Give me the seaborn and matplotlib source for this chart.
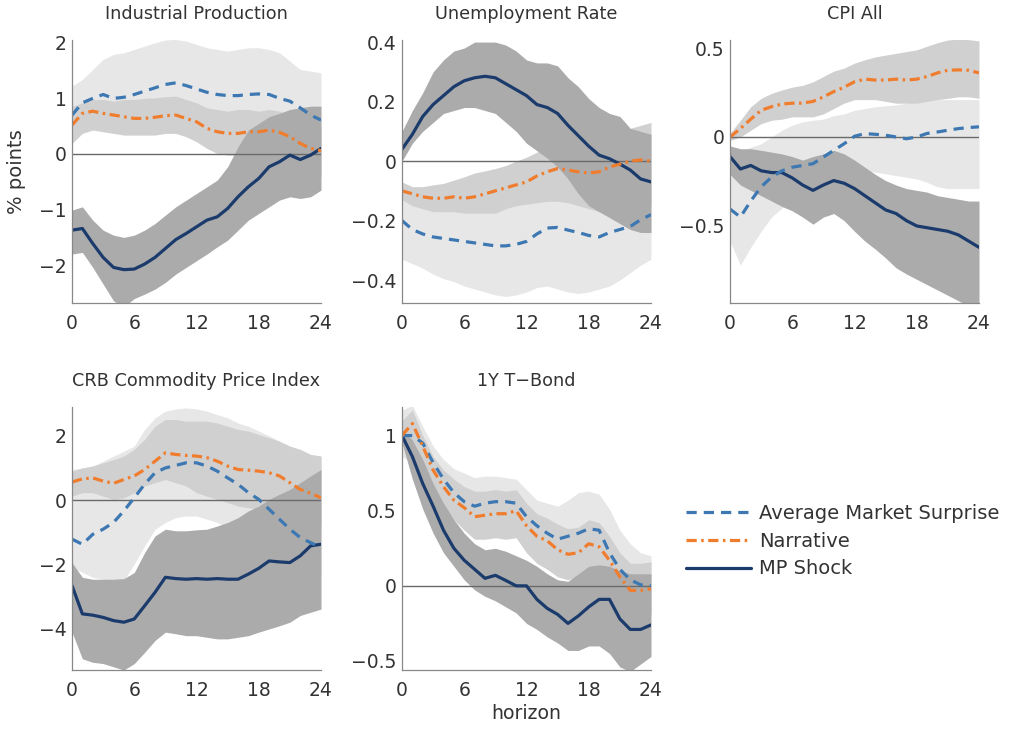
import numpy as np
import pandas as pd
import matplotlib
matplotlib.use("Agg")
import matplotlib.pyplot as plt
from matplotlib.lines import Line2D
import seaborn as sns

sns.set_style("white")
plt.rcParams['font.family'] = ['DejaVu Sans']

horizon = list(range(25))
series_labels = ["Average Market Surprise", "Narrative", "MP Shock"]
panel_titles = ["Industrial Production", "Unemployment Rate", "CPI All",
                "CRB Commodity Price Index", "1Y T\u2212Bond"]

# ---------------- Industrial Production ----------------
ip_mp = [-1.37, -1.34, -1.61, -1.86, -2.04, -2.08, -2.07, -1.98, -1.86, -1.70, -1.54, -1.43, -1.31,
         -1.19, -1.13, -0.98, -0.77, -0.59, -0.44, -0.23, -0.14, -0.02, -0.10, -0.02, 0.10]
ip_mp_hi = [-1.01, -0.95, -1.19, -1.37, -1.46, -1.50, -1.46, -1.37, -1.25, -1.10, -0.95, -0.83, -0.71,
            -0.59, -0.47, -0.23, 0.13, 0.43, 0.55, 0.67, 0.73, 0.80, 0.83, 0.86, 0.86]
ip_mp_lo = [-1.80, -1.77, -2.04, -2.34, -2.64, -2.75, -2.60, -2.52, -2.43, -2.31, -2.16, -2.04, -1.92,
            -1.80, -1.67, -1.55, -1.37, -1.19, -1.07, -0.95, -0.83, -0.77, -0.80, -0.77, -0.65]
ip_avg = [0.70, 0.92, 1.00, 1.07, 1.00, 1.02, 1.07, 1.13, 1.19, 1.25, 1.28, 1.23, 1.17,
          1.11, 1.07, 1.05, 1.05, 1.07, 1.08, 1.07, 1.00, 0.95, 0.83, 0.70, 0.61]
ip_avg_hi = [1.22, 1.34, 1.52, 1.70, 1.79, 1.82, 1.88, 1.94, 2.00, 2.05, 2.06, 2.03, 1.97,
             1.91, 1.88, 1.85, 1.88, 1.91, 1.91, 1.88, 1.82, 1.67, 1.52, 1.49, 1.46]
ip_avg_lo = [0.30, 0.45, 0.50, 0.52, 0.50, 0.45, 0.45, 0.48, 0.50, 0.55, 0.60, 0.55, 0.45,
             0.35, 0.30, 0.25, 0.25, 0.28, 0.30, 0.30, 0.25, 0.20, 0.10, 0.00, -0.10]
ip_nar = [0.52, 0.73, 0.77, 0.73, 0.70, 0.67, 0.64, 0.64, 0.66, 0.69, 0.70, 0.64, 0.58,
          0.46, 0.40, 0.37, 0.37, 0.40, 0.40, 0.43, 0.39, 0.31, 0.19, 0.10, 0.06]
ip_nar_hi = [0.86, 0.92, 0.98, 0.98, 0.95, 0.98, 0.98, 1.00, 1.01, 1.03, 1.04, 0.98, 0.92,
             0.83, 0.80, 0.77, 0.80, 0.80, 0.77, 0.80, 0.77, 0.70, 0.61, 0.55, 0.49]
ip_nar_lo = [0.19, 0.37, 0.43, 0.40, 0.37, 0.34, 0.34, 0.34, 0.34, 0.37, 0.37, 0.31, 0.22,
             0.10, 0.01, -0.02, -0.02, 0.00, 0.01, 0.01, -0.02, -0.11, -0.23, -0.35, -0.41]

# ---------------- Unemployment Rate ----------------
ur_mp = [0.04, 0.09, 0.15, 0.19, 0.22, 0.25, 0.27, 0.28, 0.285, 0.28, 0.26, 0.24, 0.22,
         0.19, 0.18, 0.16, 0.12, 0.085, 0.05, 0.02, 0.008, -0.01, -0.03, -0.06, -0.07]
ur_mp_hi = [0.10, 0.17, 0.23, 0.30, 0.34, 0.37, 0.38, 0.40, 0.40, 0.40, 0.39, 0.37, 0.34,
            0.33, 0.33, 0.32, 0.28, 0.25, 0.21, 0.18, 0.16, 0.15, 0.11, 0.10, 0.09]
ur_mp_lo = [0.00, 0.06, 0.10, 0.13, 0.16, 0.17, 0.18, 0.18, 0.17, 0.16, 0.13, 0.10, 0.06,
            0.035, 0.01, -0.02, -0.06, -0.11, -0.15, -0.17, -0.19, -0.21, -0.23, -0.24, -0.24]
ur_avg = [-0.20, -0.23, -0.245, -0.255, -0.26, -0.265, -0.27, -0.275, -0.28, -0.285, -0.285, -0.28, -0.27,
          -0.245, -0.225, -0.223, -0.232, -0.24, -0.25, -0.255, -0.24, -0.23, -0.22, -0.197, -0.18]
ur_avg_hi = [-0.09, -0.11, -0.12, -0.13, -0.13, -0.13, -0.14, -0.14, -0.14, -0.14, -0.13, -0.12, -0.11,
             -0.10, -0.10, -0.10, -0.11, -0.12, -0.12, -0.12, -0.12, -0.12, -0.11, -0.10, -0.09]
ur_avg_lo = [-0.33, -0.345, -0.36, -0.38, -0.395, -0.405, -0.42, -0.43, -0.44, -0.45, -0.455, -0.45, -0.44,
             -0.425, -0.42, -0.43, -0.44, -0.445, -0.44, -0.43, -0.42, -0.40, -0.375, -0.35, -0.33]
ur_nar = [-0.10, -0.11, -0.12, -0.125, -0.125, -0.12, -0.125, -0.12, -0.11, -0.10, -0.09, -0.08, -0.07,
          -0.05, -0.036, -0.025, -0.03, -0.036, -0.04, -0.036, -0.02, -0.01, 0.00, 0.004, 0.00]
ur_nar_hi = [-0.07, -0.086, -0.086, -0.08, -0.075, -0.064, -0.053, -0.04, -0.033, -0.025, -0.015, 0.00, 0.013,
             0.03, 0.046, 0.057, 0.065, 0.07, 0.075, 0.08, 0.09, 0.10, 0.11, 0.12, 0.13]
ur_nar_lo = [-0.13, -0.15, -0.16, -0.17, -0.17, -0.17, -0.175, -0.175, -0.175, -0.175, -0.16, -0.15, -0.145,
             -0.14, -0.135, -0.135, -0.14, -0.15, -0.16, -0.17, -0.175, -0.175, -0.165, -0.155, -0.145]

# ---------------- CPI All ----------------
cpi_mp = [-0.11, -0.18, -0.16, -0.19, -0.20, -0.20, -0.23, -0.27, -0.30, -0.27, -0.245, -0.26, -0.29,
          -0.33, -0.37, -0.41, -0.43, -0.47, -0.50, -0.51, -0.52, -0.53, -0.55, -0.585, -0.62]
cpi_mp_hi = [-0.05, -0.066, -0.066, -0.075, -0.085, -0.095, -0.11, -0.13, -0.11, -0.095, -0.075, -0.095, -0.13,
             -0.17, -0.21, -0.245, -0.27, -0.29, -0.30, -0.31, -0.33, -0.34, -0.35, -0.36, -0.36]
cpi_mp_lo = [-0.21, -0.27, -0.30, -0.33, -0.36, -0.39, -0.415, -0.45, -0.49, -0.45, -0.43, -0.47, -0.53,
             -0.585, -0.63, -0.68, -0.735, -0.77, -0.80, -0.83, -0.86, -0.89, -0.92, -0.95, -0.97]
cpi_avg = [-0.405, -0.45, -0.36, -0.28, -0.226, -0.19, -0.17, -0.16, -0.15, -0.113, -0.075, -0.038, 0.004,
           0.019, 0.015, 0.01, 0.00, -0.01, 0.00, 0.02, 0.028, 0.038, 0.047, 0.053, 0.057]
cpi_avg_hi = [-0.057, -0.085, -0.057, -0.038, 0.00, 0.038, 0.066, 0.085, 0.094, 0.10, 0.12, 0.13, 0.15,
              0.16, 0.17, 0.175, 0.18, 0.19, 0.20, 0.21, 0.21, 0.21, 0.21, 0.21, 0.21]
cpi_avg_lo = [-0.585, -0.72, -0.62, -0.53, -0.45, -0.40, -0.35, -0.32, -0.30, -0.28, -0.255, -0.226, -0.198,
              -0.19, -0.198, -0.207, -0.217, -0.226, -0.236, -0.255, -0.28, -0.29, -0.29, -0.29, -0.29]
cpi_nar = [0.00, 0.047, 0.10, 0.15, 0.17, 0.185, 0.19, 0.19, 0.20, 0.225, 0.255, 0.28, 0.31,
           0.325, 0.32, 0.32, 0.325, 0.32, 0.325, 0.34, 0.36, 0.375, 0.377, 0.375, 0.36]
cpi_nar_hi = [0.02, 0.094, 0.17, 0.217, 0.245, 0.264, 0.28, 0.29, 0.31, 0.34, 0.37, 0.387, 0.415,
              0.434, 0.45, 0.46, 0.47, 0.48, 0.49, 0.51, 0.53, 0.545, 0.55, 0.547, 0.54]
cpi_nar_lo = [-0.02, 0.00, 0.038, 0.075, 0.094, 0.10, 0.113, 0.113, 0.113, 0.13, 0.16, 0.19, 0.21,
              0.21, 0.21, 0.20, 0.19, 0.19, 0.19, 0.20, 0.21, 0.217, 0.226, 0.226, 0.217]

# ---------------- CRB Commodity Price Index ----------------
crb_mp = [-2.67, -3.55, -3.59, -3.66, -3.76, -3.81, -3.71, -3.30, -2.88, -2.41, -2.45, -2.47, -2.45,
          -2.47, -2.45, -2.47, -2.47, -2.31, -2.13, -1.90, -1.93, -1.95, -1.74, -1.43, -1.38]
crb_mp_hi = [-1.95, -2.41, -2.47, -2.47, -2.47, -2.45, -2.26, -1.64, -1.12, -0.91, -0.96, -0.96, -0.93,
             -0.91, -0.81, -0.70, -0.55, -0.34, -0.19, 0.02, 0.18, 0.33, 0.54, 0.75, 0.95]
crb_mp_lo = [-4.12, -4.95, -5.06, -5.10, -5.20, -5.30, -5.10, -4.75, -4.38, -4.12, -4.17, -4.23, -4.23,
             -4.28, -4.33, -4.33, -4.28, -4.23, -4.12, -4.02, -3.92, -3.81, -3.60, -3.50, -3.40]
crb_avg = [-1.22, -1.38, -1.07, -0.91, -0.70, -0.34, 0.07, 0.49, 0.85, 1.00, 1.08, 1.16, 1.16,
           1.06, 0.90, 0.69, 0.49, 0.23, 0.02, -0.29, -0.60, -0.91, -1.17, -1.33, -1.48]
crb_avg_hi = [0.95, 1.00, 1.06, 1.21, 1.37, 1.52, 1.68, 2.20, 2.56, 2.77, 2.84, 2.87, 2.84,
              2.77, 2.66, 2.56, 2.40, 2.30, 2.15, 2.00, 1.84, 1.68, 1.52, 1.42, 1.37]
crb_avg_lo = [-2.10, -2.25, -2.41, -2.47, -2.50, -2.50, -2.00, -1.43, -0.91, -0.70, -0.55, -0.50, -0.50,
              -0.60, -0.70, -0.85, -1.02, -1.22, -1.43, -1.64, -1.84, -2.00, -2.16, -2.26, -2.36]
crb_nar = [0.56, 0.66, 0.69, 0.59, 0.52, 0.64, 0.75, 0.95, 1.21, 1.47, 1.42, 1.39, 1.37,
           1.32, 1.21, 1.06, 0.95, 0.93, 0.90, 0.85, 0.75, 0.54, 0.33, 0.21, 0.07]
crb_nar_hi = [0.90, 1.00, 1.06, 1.16, 1.26, 1.37, 1.58, 1.89, 2.30, 2.51, 2.51, 2.46, 2.46,
              2.46, 2.40, 2.30, 2.20, 2.15, 2.04, 1.94, 1.83, 1.68, 1.58, 1.42, 1.37]
crb_nar_lo = [0.12, 0.23, 0.23, 0.12, 0.02, 0.07, 0.23, 0.44, 0.54, 0.64, 0.54, 0.44, 0.23,
              0.12, 0.02, -0.08, -0.19, -0.24, -0.29, -0.34, -0.39, -0.50, -0.60, -0.70, -0.81]

# ---------------- 1Y T-Bond ----------------
tb_mp = [1.00, 0.86, 0.68, 0.53, 0.37, 0.25, 0.17, 0.11, 0.05, 0.07, 0.036, 0.00, 0.00,
         -0.09, -0.15, -0.19, -0.25, -0.20, -0.14, -0.09, -0.09, -0.22, -0.29, -0.29, -0.26]
tb_mp_hi = [1.04, 0.97, 0.84, 0.68, 0.55, 0.44, 0.35, 0.28, 0.24, 0.25, 0.23, 0.20, 0.17,
            0.13, 0.08, 0.04, 0.03, 0.08, 0.13, 0.14, 0.13, 0.10, 0.08, 0.08, 0.08]
tb_mp_lo = [0.95, 0.71, 0.51, 0.35, 0.22, 0.13, 0.04, -0.027, -0.07, -0.10, -0.14, -0.18, -0.25,
            -0.29, -0.34, -0.38, -0.43, -0.43, -0.40, -0.40, -0.45, -0.54, -0.57, -0.52, -0.47]
tb_avg = [1.00, 1.00, 0.95, 0.82, 0.71, 0.62, 0.56, 0.53, 0.55, 0.56, 0.56, 0.55, 0.46,
          0.40, 0.35, 0.31, 0.33, 0.35, 0.38, 0.37, 0.22, 0.11, 0.04, 0.007, 0.00]
tb_avg_hi = [1.17, 1.20, 1.06, 0.93, 0.84, 0.78, 0.75, 0.72, 0.73, 0.73, 0.72, 0.71, 0.64,
             0.57, 0.55, 0.53, 0.57, 0.62, 0.63, 0.61, 0.51, 0.37, 0.28, 0.22, 0.20]
tb_avg_lo = [0.86, 0.82, 0.71, 0.60, 0.51, 0.44, 0.40, 0.37, 0.37, 0.37, 0.36, 0.35, 0.26,
             0.20, 0.14, 0.08, 0.06, 0.08, 0.13, 0.11, 0.02, -0.09, -0.16, -0.18, -0.18]
tb_nar = [1.00, 1.08, 0.93, 0.77, 0.66, 0.57, 0.52, 0.46, 0.47, 0.48, 0.48, 0.50, 0.40,
          0.33, 0.30, 0.24, 0.21, 0.22, 0.28, 0.26, 0.17, 0.06, -0.03, -0.03, -0.02]
tb_nar_hi = [1.10, 1.17, 1.00, 0.86, 0.77, 0.71, 0.66, 0.63, 0.63, 0.64, 0.63, 0.64, 0.55,
             0.48, 0.45, 0.41, 0.38, 0.39, 0.44, 0.42, 0.33, 0.22, 0.15, 0.15, 0.16]
tb_nar_lo = [0.93, 0.95, 0.82, 0.66, 0.53, 0.44, 0.37, 0.31, 0.31, 0.32, 0.31, 0.32, 0.22,
             0.15, 0.11, 0.06, 0.04, 0.06, 0.12, 0.08, 0.00, -0.12, -0.20, -0.20, -0.19]

# y-axis settings per panel
ip_yticks = [-2, -1, 0, 1, 2]
ur_yticks = [-0.4, -0.2, 0, 0.2, 0.4]
cpi_yticks = [-0.5, 0, 0.5]
crb_yticks = [-4, -2, 0, 2]
tb_yticks = [-0.5, 0, 0.5, 1]
xticks = [0, 6, 12, 18, 24]

panels = [
    dict(title=panel_titles[0], avg=(ip_avg, ip_avg_lo, ip_avg_hi), nar=(ip_nar, ip_nar_lo, ip_nar_hi),
         mp=(ip_mp, ip_mp_lo, ip_mp_hi), yticks=ip_yticks, ylim=(-2.68, 2.05)),
    dict(title=panel_titles[1], avg=(ur_avg, ur_avg_lo, ur_avg_hi), nar=(ur_nar, ur_nar_lo, ur_nar_hi),
         mp=(ur_mp, ur_mp_lo, ur_mp_hi), yticks=ur_yticks, ylim=(-0.477, 0.407)),
    dict(title=panel_titles[2], avg=(cpi_avg, cpi_avg_lo, cpi_avg_hi), nar=(cpi_nar, cpi_nar_lo, cpi_nar_hi),
         mp=(cpi_mp, cpi_mp_lo, cpi_mp_hi), yticks=cpi_yticks, ylim=(-0.933, 0.545)),
    dict(title=panel_titles[3], avg=(crb_avg, crb_avg_lo, crb_avg_hi), nar=(crb_nar, crb_nar_lo, crb_nar_hi),
         mp=(crb_mp, crb_mp_lo, crb_mp_hi), yticks=crb_yticks, ylim=(-5.3, 2.9)),
    dict(title=panel_titles[4], avg=(tb_avg, tb_avg_lo, tb_avg_hi), nar=(tb_nar, tb_nar_lo, tb_nar_hi),
         mp=(tb_mp, tb_mp_lo, tb_mp_hi), yticks=tb_yticks, ylim=(-0.56, 1.19)),
]

c_avg = "#3d78b2"
c_nar = "#f07d2e"
c_mp = "#1b3b6c"
band_avg = "#e7e7e7"
band_nar = "#d0d0d0"
band_mp = "#ababab"
ls_avg = (0, (3.2, 2.2))
ls_nar = (0, (3.2, 1.4, 0.8, 1.4))
LW = 2.3
TXT = "#333333"

W, H = 1012, 731
fig = plt.figure(figsize=(W / 100, H / 100), dpi=100)

lefts = [72, 402, 730]
rows = [(40, 303), (407, 670)]
axw = 249

def fmt(v):
    if v == 0:
        return "0"
    s = ("%g" % abs(v))
    return ("\u2212" + s) if v < 0 else s

for i, p in enumerate(panels):
    r, c = divmod(i, 3)
    top, bot = rows[r]
    ax = fig.add_axes([lefts[c] / W, (H - bot) / H, axw / W, (bot - top) / H])
    df = pd.DataFrame({"h": horizon,
                       "avg": p["avg"][0], "avg_lo": p["avg"][1], "avg_hi": p["avg"][2],
                       "nar": p["nar"][0], "nar_lo": p["nar"][1], "nar_hi": p["nar"][2],
                       "mp": p["mp"][0], "mp_lo": p["mp"][1], "mp_hi": p["mp"][2]})
    ax.fill_between(df["h"], df["avg_lo"], df["avg_hi"], color=band_avg, lw=0, zorder=1)
    ax.fill_between(df["h"], df["nar_lo"], df["nar_hi"], color=band_nar, lw=0, zorder=2)
    ax.fill_between(df["h"], df["mp_lo"], df["mp_hi"], color=band_mp, lw=0, zorder=3)
    ax.axhline(0, color="#6a6a6a", lw=1.0, zorder=4)
    sns.lineplot(data=df, x="h", y="mp", ax=ax, color=c_mp, lw=LW, zorder=5, legend=False)
    sns.lineplot(data=df, x="h", y="avg", ax=ax, color=c_avg, lw=LW, ls=ls_avg, zorder=6, legend=False)
    sns.lineplot(data=df, x="h", y="nar", ax=ax, color=c_nar, lw=LW, ls=ls_nar, zorder=7, legend=False)
    ax.set_xlim(0, 24)
    ax.set_ylim(*p["ylim"])
    ax.set_xticks(xticks)
    ax.set_xticklabels([str(t) for t in xticks])
    ax.set_yticks(p["yticks"])
    ax.set_yticklabels([fmt(t) for t in p["yticks"]])
    ax.tick_params(direction="in", length=4, width=0.8, color="#777777", labelsize=13.5,
                   labelcolor=TXT)
    ax.tick_params(axis="x", pad=8)
    ax.tick_params(axis="y", pad=4)
    for s in ["top", "right"]:
        ax.spines[s].set_visible(False)
    for s in ["left", "bottom"]:
        ax.spines[s].set_color("#888888")
        ax.spines[s].set_linewidth(0.9)
        ax.spines[s].set_zorder(8)
    ax.set_xlabel("")
    ax.set_ylabel("")
    ax.set_title(p["title"], fontsize=12.7, color=TXT, pad=15)
    if i == 0:
        ax.set_ylabel("% points", fontsize=14, color=TXT)
        ax.yaxis.set_label_coords(-46 / axw, 0.5)
    if i == 4:
        ax.set_xlabel("horizon", fontsize=13.6, color=TXT, labelpad=3)

handles = [Line2D([0], [0], color=c_avg, lw=LW, ls=ls_avg),
           Line2D([0], [0], color=c_nar, lw=LW, ls=ls_nar),
           Line2D([0], [0], color=c_mp, lw=LW)]
fig.legend(handles, series_labels, loc="upper left", bbox_to_anchor=(686 / W, (H - 504) / H),
           frameon=False, fontsize=14, handlelength=3.35, handletextpad=0.4, labelspacing=0.45,
           labelcolor=TXT, borderaxespad=0, borderpad=0)

fig.savefig("out.png", dpi=100)
